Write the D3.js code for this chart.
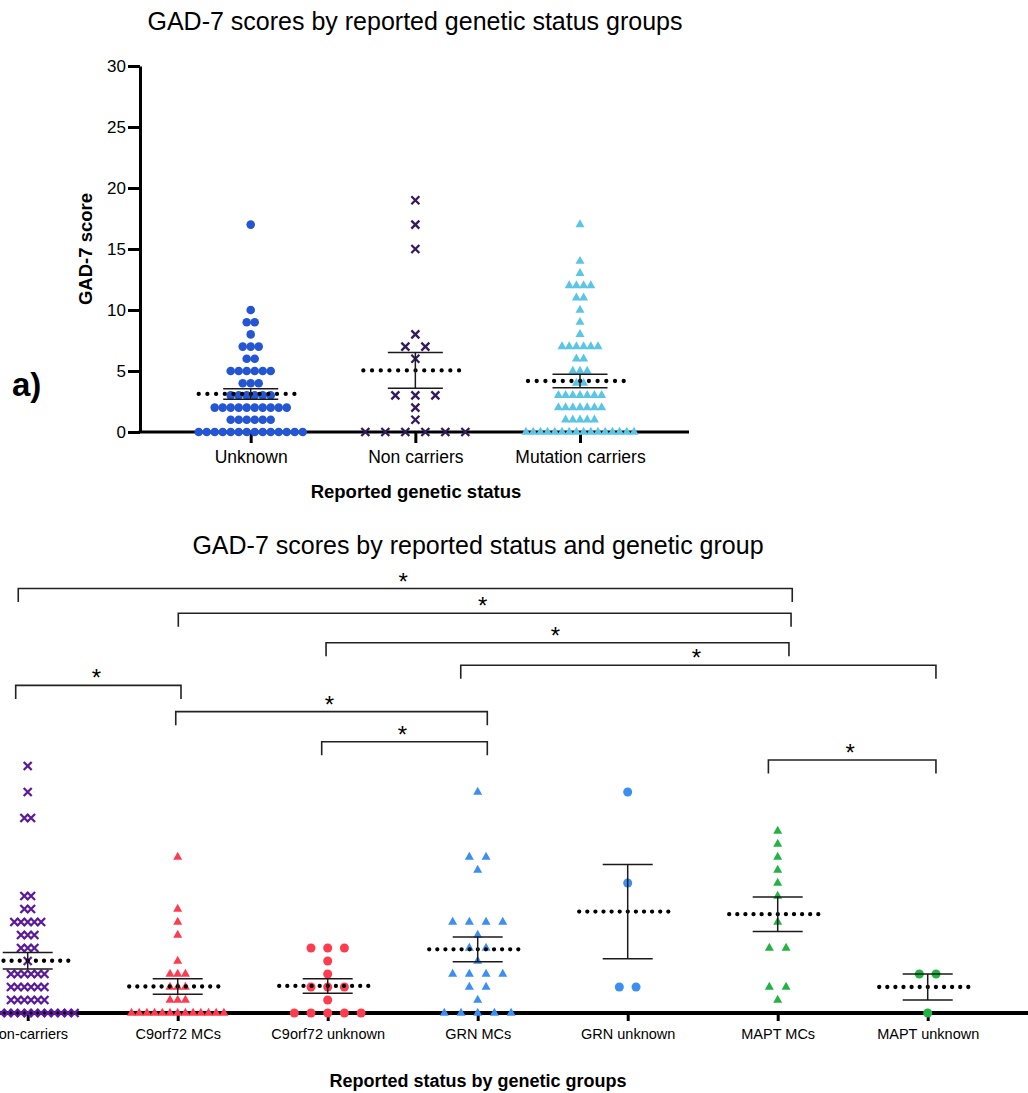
<!DOCTYPE html>
<html>
<head>
<meta charset="utf-8">
<script src="https://cdn.jsdelivr.net/npm/d3@7.9.0/dist/d3.min.js"></script>
<style>
  body { margin: 0; background: #fff; }
  svg { display: block; font-family: "Liberation Sans", Arial, Helvetica, sans-serif; }
</style>
</head>
<body>
<svg id="chart" width="1028" height="1093"></svg>
<script>
// ---- top panel: scores by reported genetic status ----
const topGroups = ["Unknown", "Non carriers", "Mutation carriers"];
const topUnknown = [17, 10, 9, 9, 8, 7, 7, 7, 6, 6, 5, 5, 5, 5, 5, 5, 4, 4, 4,
  3, 3, 3, 3, 3, 3, 2, 2, 2, 2, 2, 2, 2, 2, 2, 2, 1, 1, 1, 1, 1, 1,
  0, 0, 0, 0, 0, 0, 0, 0, 0, 0, 0, 0, 0, 0];
const topNonCarriers = [19, 17, 15, 8, 7, 7, 6, 3, 3, 3, 2, 1, 0, 0, 0, 0, 0, 0];
const topMutation = [17, 14, 13, 12, 12, 12, 12, 11, 11, 10, 9, 8, 7, 7, 7, 7, 7, 7, 6, 6,
  5, 5, 5, 4, 4, 3, 3, 3, 3, 3, 3, 3, 2, 2, 2, 2, 2, 2, 2, 1, 1, 1, 1, 1,
  0, 0, 0, 0, 0, 0, 0, 0, 0, 0, 0, 0, 0, 0, 0, 0];
const topMeans = [3.12, 5.05, 4.18];
const topSems = [0.43, 1.46, 0.55];
const topTicks = [0, 5, 10, 15, 20, 25, 30];

// ---- bottom panel: scores by status and genetic group ----
const bottomGroups = ["Non-carriers", "C9orf72 MCs", "C9orf72 unknown", "GRN MCs",
  "GRN unknown", "MAPT MCs", "MAPT unknown"];
const nonCarriers = [19, 17, 15, 15, 9, 9, 8, 8, 7, 7, 7, 7, 7, 6, 6, 6, 5, 5, 5, 4,
  3, 3, 3, 3, 3, 3, 2, 2, 2, 2, 2, 2, 1, 1, 1, 1, 1, 1,
  0, 0, 0, 0, 0, 0, 0, 0, 0, 0, 0, 0, 0, 0, 0];
const c9MCs = [12, 8, 7, 6, 4, 3, 3, 3, 2, 2, 2, 1, 1, 1,
  0, 0, 0, 0, 0, 0, 0, 0, 0, 0, 0, 0, 0];
const c9Unknown = [5, 5, 5, 4, 3, 2, 2, 2, 1, 0, 0, 0, 0, 0];
const grnMCs = [17, 12, 12, 11, 7, 7, 7, 7, 6, 5, 5, 4, 3, 3, 3, 3, 2, 2, 1, 0, 0, 0, 0, 0];
const grnUnknown = [17, 10, 2, 2];
const maptMCs = [14, 13, 12, 11, 10, 9, 7, 5, 5, 2, 2, 1];
const maptUnknown = [3, 3, 0];
const bottomMeans = [4.02, 2.04, 2.08, 4.9, 7.8, 7.6, 2.0];
const bottomSems = [0.64, 0.6, 0.56, 0.95, 3.62, 1.33, 1.0];

// significance brackets: from / to in group-index units, level in score units
const bracketFrom = [-0.063, 1.004, 1.989, 2.887, -0.08, 0.987, 1.96, 4.938];
const bracketTo = [5.097, 5.089, 5.075, 6.055, 1.022, 3.064, 3.064, 6.055];
const bracketLevel = [32.65, 30.75, 28.48, 26.75, 25.2, 23.18, 20.87, 19.46];

const svg = d3.select("#chart");

// marker styles per group
const topStyle = [
  { values: topUnknown, shape: "circle", color: "#2456d3", step: 8, size: 8.6 },
  { values: topNonCarriers, shape: "cross", color: "#33195e", step: 20, size: 8 },
  { values: topMutation, shape: "triangle", color: "#5bc5e6", step: 7.2, size: 9 },
];
const bottomStyle = [
  { values: nonCarriers, shape: "cross", color: "#5a1a9a", step: 6.7, size: 8 },
  { values: c9MCs, shape: "triangle", color: "#ff3b4f", step: 7.7, size: 9 },
  { values: c9Unknown, shape: "circle", color: "#ff3b4f", step: 16.7, size: 9 },
  { values: grnMCs, shape: "triangle", color: "#3c8ff2", step: 16.7, size: 9 },
  { values: grnUnknown, shape: "circle", color: "#3c8ff2", step: 16.7, size: 9 },
  { values: maptMCs, shape: "triangle", color: "#22b443", step: 16.7, size: 9 },
  { values: maptUnknown, shape: "circle", color: "#22b443", step: 16.7, size: 9 },
];

// spread points of equal value side by side, centred on the group
function layout(values, step) {
  const pts = [];
  for (const [v, arr] of d3.group(values, (d) => d)) {
    const n = arr.length;
    arr.forEach((_, i) => pts.push({ v, dx: (i - (n - 1) / 2) * step }));
  }
  return pts;
}

function drawPoints(g, style, cx, y) {
  const pts = layout(style.values, style.step);
  const s = style.size;
  const sel = g.append("g").selectAll("path")
    .data(pts)
    .join("path")
    .attr("transform", (d) => `translate(${cx + d.dx},${y(d.v)})`);
  if (style.shape === "circle") {
    sel.attr("d", d3.symbol(d3.symbolCircle, Math.PI * (s / 2) ** 2)()).attr("fill", style.color);
  } else if (style.shape === "triangle") {
    const h = s * 0.88;
    sel.attr("d", `M0,${-h * 2 / 3}L${s / 2},${h / 3}L${-s / 2},${h / 3}Z`).attr("fill", style.color);
  } else {
    const h = s / 2;
    sel.attr("d", `M${-h},${-h}L${h},${h}M${-h},${h}L${h},${-h}`)
      .attr("fill", "none").attr("stroke", style.color).attr("stroke-width", 2.3);
  }
}

function drawMean(g, cx, y, mean, sem, half, cap, dotStep) {
  g.append("line")
    .attr("x1", cx - half).attr("x2", cx + half)
    .attr("y1", y(mean)).attr("y2", y(mean))
    .attr("stroke", "#000").attr("stroke-width", 4.3)
    .attr("stroke-linecap", "round").attr("stroke-dasharray", `0 ${dotStep}`);
  const eb = g.append("g").attr("stroke", "#1a1a1a").attr("stroke-width", 1.5);
  eb.append("line").attr("x1", cx).attr("x2", cx)
    .attr("y1", y(mean + sem)).attr("y2", y(mean - sem));
  [mean + sem, mean - sem].forEach((v) => {
    eb.append("line").attr("x1", cx - cap).attr("x2", cx + cap)
      .attr("y1", y(v)).attr("y2", y(v));
  });
}

// ================= top panel =================
const yTop = d3.scaleLinear().domain([0, 30]).range([432, 66]);
const xTop = d3.scalePoint().domain(topGroups).range([250.7, 580]);
const axisLeftX = 140;

svg.append("text")
  .attr("x", 415).attr("y", 30).attr("text-anchor", "middle")
  .attr("font-size", 25)
  .text("GAD-7 scores by reported genetic status groups");

const yAxisTop = svg.append("g")
  .attr("transform", `translate(${axisLeftX},0)`)
  .call(d3.axisLeft(yTop).tickValues(topTicks).tickSize(12).tickSizeOuter(0).tickPadding(2));
yAxisTop.select(".domain").attr("stroke-width", 3).attr("stroke", "#000");
yAxisTop.selectAll(".tick line").attr("stroke-width", 3).attr("stroke", "#000");
yAxisTop.selectAll(".tick text").attr("font-size", 17).attr("fill", "#000")
  .attr("font-family", null);

svg.append("line")
  .attr("x1", axisLeftX - 1.5).attr("x2", 689)
  .attr("y1", yTop(0)).attr("y2", yTop(0))
  .attr("stroke", "#000").attr("stroke-width", 3);

const xAxisTop = svg.append("g")
  .attr("transform", `translate(0,${yTop(0)})`)
  .call(d3.axisBottom(xTop).tickSize(11).tickSizeOuter(0).tickPadding(8));
xAxisTop.select(".domain").remove();
xAxisTop.selectAll(".tick line").attr("stroke-width", 3).attr("stroke", "#000");
xAxisTop.selectAll(".tick text").attr("font-size", 17.5).attr("fill", "#000")
  .attr("font-family", null);

const topG = svg.append("g");
topStyle.forEach((st, i) => drawPoints(topG, st, xTop(topGroups[i]), yTop));
topGroups.forEach((name, i) =>
  drawMean(topG, xTop(name), yTop, topMeans[i], topSems[i], 52, 27.5, 8.7));

svg.append("text")
  .attr("transform", "translate(92,249) rotate(-90)")
  .attr("text-anchor", "middle").attr("font-size", 18.5).attr("font-weight", "bold")
  .text("GAD-7 score");

svg.append("text")
  .attr("x", 416).attr("y", 498).attr("text-anchor", "middle")
  .attr("font-size", 18.5).attr("font-weight", "bold")
  .text("Reported genetic status");

svg.append("text")
  .attr("x", 12).attr("y", 396)
  .attr("font-size", 33).attr("font-weight", "bold")
  .text("a)");

// ================= bottom panel =================
const yBot = d3.scaleLinear().domain([0, 30]).range([1013, 623]);
const xBot = d3.scalePoint().domain(bottomGroups).range([27.7, 927.7]);
const xIdx = d3.scaleLinear().domain([0, bottomGroups.length - 1]).range([27.7, 927.7]);

svg.append("text")
  .attr("x", 478).attr("y", 554).attr("text-anchor", "middle")
  .attr("font-size", 25)
  .text("GAD-7 scores by reported status and genetic group");

svg.append("line")
  .attr("x1", 0).attr("x2", 1028)
  .attr("y1", yBot(0)).attr("y2", yBot(0))
  .attr("stroke", "#000").attr("stroke-width", 4);

const xAxisBot = svg.append("g")
  .attr("transform", `translate(0,${yBot(0)})`)
  .call(d3.axisBottom(xBot).tickSize(8).tickSizeOuter(0).tickPadding(8));
xAxisBot.select(".domain").remove();
xAxisBot.selectAll(".tick line").attr("stroke-width", 3).attr("stroke", "#000");
xAxisBot.selectAll(".tick text").attr("font-size", 14.5).attr("fill", "#000")
  .attr("font-family", null);

const botG = svg.append("g");
bottomStyle.forEach((st, i) => drawPoints(botG, st, xBot(bottomGroups[i]), yBot));
bottomGroups.forEach((name, i) =>
  drawMean(botG, xBot(name), yBot, bottomMeans[i], bottomSems[i], 48.5, 25, 8.1));

// brackets with asterisks
const brG = svg.append("g");
bracketLevel.forEach((lvl, i) => {
  const x1 = xIdx(bracketFrom[i]);
  const x2 = xIdx(bracketTo[i]);
  const yy = yBot(lvl);
  const drop = yBot(lvl - 1.04);
  brG.append("path")
    .attr("d", `M${x1},${drop}V${yy}H${x2}V${drop}`)
    .attr("fill", "none").attr("stroke", "#222").attr("stroke-width", 1.6);
  brG.append("text")
    .attr("x", (x1 + x2) / 2 - 2).attr("y", yy + 1)
    .attr("text-anchor", "middle").attr("font-size", 24)
    .text("*");
});

svg.append("text")
  .attr("x", 478).attr("y", 1087).attr("text-anchor", "middle")
  .attr("font-size", 18).attr("font-weight", "bold")
  .text("Reported status by genetic groups");
</script>
</body>
</html>
